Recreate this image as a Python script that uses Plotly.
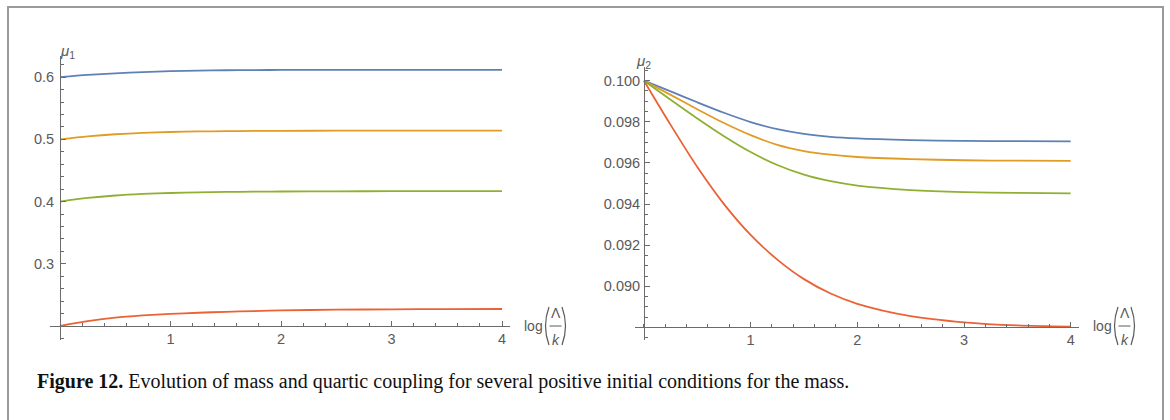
import plotly.graph_objects as go

# ---------------- data ----------------
x_vals = [0, 0.25, 0.5, 0.75, 1.0, 1.25, 1.5, 1.75, 2.0, 2.5, 3.0, 3.5, 4.0]

mu1_blue = [0.600, 0.6035, 0.6062, 0.6082, 0.6097, 0.6106, 0.6111, 0.6114, 0.6116, 0.6118, 0.6118, 0.6118, 0.6118]
mu1_orange = [0.500, 0.5047, 0.5082, 0.5105, 0.5118, 0.5127, 0.5132, 0.5135, 0.5137, 0.5139, 0.5140, 0.5140, 0.5140]
mu1_green = [0.400, 0.4058, 0.4098, 0.4123, 0.4138, 0.4148, 0.4155, 0.4159, 0.4162, 0.4165, 0.4167, 0.4168, 0.4168]
mu1_red = [0.200, 0.2077, 0.2135, 0.2170, 0.2195, 0.2213, 0.2228, 0.2240, 0.2250, 0.2262, 0.2268, 0.2271, 0.2273]

mu2_blue = [0.1000, 0.09948, 0.09895, 0.09844, 0.09799, 0.09764, 0.09741, 0.09727, 0.09719, 0.09711, 0.09707, 0.09706, 0.09705]
mu2_orange = [0.1000, 0.09931, 0.09861, 0.09794, 0.09735, 0.09688, 0.09658, 0.09640, 0.09629, 0.09619, 0.09613, 0.09611, 0.09610]
mu2_green = [0.1000, 0.09907, 0.09816, 0.09730, 0.09653, 0.09590, 0.09543, 0.09511, 0.09490, 0.09468, 0.09458, 0.09454, 0.09452]
mu2_red = [0.1000, 0.09785, 0.09580, 0.09400, 0.09250, 0.09130, 0.09035, 0.08965, 0.08915, 0.08855, 0.08825, 0.08810, 0.08804]

x_ticks = [1, 2, 3, 4]
y1_ticks = [0.3, 0.4, 0.5, 0.6]
y2_ticks = [0.090, 0.092, 0.094, 0.096, 0.098, 0.100]
y2_ticktext = ["0.090", "0.092", "0.094", "0.096", "0.098", "0.100"]

caption = "<b>Figure 12.</b> Evolution of mass and quartic coupling for several positive initial conditions for the mass."

# ---------------- style ----------------
W, H = 1170, 420
COLORS = ["#5E81B5", "#E19C24", "#8FB032", "#EB6235"]
AX = "#6b6b6b"
TXT = "#5a5a5a"
TICKFONT = dict(family="Liberation Sans, Arial, sans-serif", size=14.5, color=TXT)


def px(x):
    return x / W


def py(y):
    return 1 - y / H


fig = go.Figure()
for ys, c in zip([mu1_blue, mu1_orange, mu1_green, mu1_red], COLORS):
    fig.add_trace(go.Scatter(x=x_vals, y=ys, mode="lines", xaxis="x", yaxis="y",
                             line=dict(color=c, width=1.8, shape="spline", smoothing=0.8),
                             showlegend=False, hoverinfo="skip"))
for ys, c in zip([mu2_blue, mu2_orange, mu2_green, mu2_red], COLORS):
    fig.add_trace(go.Scatter(x=x_vals, y=ys, mode="lines", xaxis="x2", yaxis="y2",
                             line=dict(color=c, width=1.8, shape="spline", smoothing=0.8),
                             showlegend=False, hoverinfo="skip"))

common = dict(showgrid=False, zeroline=False, showline=True, linecolor=AX, linewidth=1,
              ticks="inside", ticklen=5, tickcolor=AX, tickwidth=1, tickfont=TICKFONT,
              automargin=False, fixedrange=True)

fig.update_layout(
    width=W, height=H, margin=dict(l=0, r=0, t=0, b=0),
    paper_bgcolor="white", plot_bgcolor="white",
    xaxis=dict(domain=[px(50), px(510)], range=[-0.0905, 4.072], anchor="free", position=py(326),
               tickmode="array", tickvals=x_ticks,
               minor=dict(ticks="inside", ticklen=3, tickcolor=AX, tickmode="linear", tick0=0, dtick=0.2),
               **common),
    yaxis=dict(domain=[py(340), py(56)], range=[0.1775, 0.634], anchor="free", position=px(60),
               tickmode="array", tickvals=y1_ticks, ticklabelstandoff=3,
               minor=dict(ticks="inside", ticklen=3, tickcolor=AX, tickmode="linear", tick0=0.2, dtick=0.02),
               **common),
    xaxis2=dict(domain=[px(635), px(1079)], range=[-0.084, 4.078], anchor="free", position=py(327),
                tickmode="array", tickvals=x_ticks,
                minor=dict(ticks="inside", ticklen=3, tickcolor=AX, tickmode="linear", tick0=0, dtick=0.2),
                **common),
    yaxis2=dict(domain=[py(340), py(66.7)], range=[0.08739, 0.10068], anchor="free", position=px(644),
                tickmode="array", tickvals=y2_ticks, ticktext=y2_ticktext, ticklabelstandoff=1,
                minor=dict(ticks="inside", ticklen=3, tickcolor=AX, tickmode="linear", tick0=0.088, dtick=0.0005),
                **common),
)

annotations = []
shapes = []

MUFONT = dict(family="Liberation Sans, Arial", size=15, color=TXT)
# axis labels mu_1, mu_2
annotations.append(dict(x=px(58), y=py(40), xref="paper", yref="paper", showarrow=False,
                        text="<i>μ</i><sub>1</sub>", font=MUFONT))
annotations.append(dict(x=px(643), y=py(50), xref="paper", yref="paper", showarrow=False,
                        text="<i>μ</i><sub>2</sub>", font=MUFONT))


def log_label(x0):
    # "log" then big parentheses with Lambda over k
    lf = dict(family="Liberation Sans, Arial", size=14, color=TXT)
    annotations.append(dict(x=px(x0), y=py(326), xref="paper", yref="paper", showarrow=False,
                            xanchor="left", yanchor="middle", text="log", font=lf))
    lp = x0 + 23
    shapes.append(dict(type="path", xref="paper", yref="paper",
                       path=f"M {px(lp + 4)},{py(307)} Q {px(lp - 3)},{py(326)} {px(lp + 4)},{py(345)}",
                       line=dict(color=TXT, width=1.2)))
    rp = lp + 21
    shapes.append(dict(type="path", xref="paper", yref="paper",
                       path=f"M {px(rp - 4)},{py(307)} Q {px(rp + 3)},{py(326)} {px(rp - 4)},{py(345)}",
                       line=dict(color=TXT, width=1.2)))
    cx = (lp + rp) / 2
    annotations.append(dict(x=px(cx), y=py(313), xref="paper", yref="paper", showarrow=False,
                            xanchor="center", yanchor="middle", text="Λ", font=lf))
    shapes.append(dict(type="line", xref="paper", yref="paper", x0=px(cx - 6), x1=px(cx + 6),
                       y0=py(326), y1=py(326), line=dict(color=TXT, width=1)))
    annotations.append(dict(x=px(cx), y=py(340), xref="paper", yref="paper", showarrow=False,
                            xanchor="center", yanchor="middle", text="<i>k</i>", font=lf))


log_label(522)
log_label(1091)

# caption
annotations.append(dict(x=px(35), y=py(381), xref="paper", yref="paper", showarrow=False,
                        xanchor="left", yanchor="middle", text=caption,
                        font=dict(family="Liberation Serif, Times New Roman, serif", size=20, color="#111111")))

# outer frame (open at the bottom)
shapes.append(dict(type="rect", xref="paper", yref="paper", x0=px(8), x1=px(1163), y0=-0.2, y1=py(7),
                   line=dict(color="#9a9a9a", width=2), fillcolor="rgba(0,0,0,0)"))

fig.update_layout(annotations=annotations, shapes=shapes)
fig.write_html("out.html")
